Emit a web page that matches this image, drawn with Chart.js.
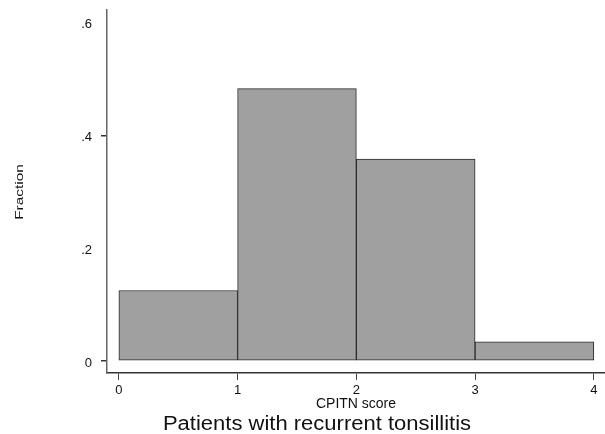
<!DOCTYPE html>
<html>
<head>
<meta charset="utf-8">
<script src="https://cdn.jsdelivr.net/npm/chart.js@4"></script>
<style>
  html, body { margin: 0; padding: 0; background: #fff; }
  #wrap { width: 605px; height: 434px; }
</style>
</head>
<body>
<div id="wrap"><canvas id="grafico" width="605" height="434"></canvas></div>
<script>
// histogram bins (CPITN score) and fraction of patients in each
const binStarts = [0, 1, 2, 3];
const binEnds = [1, 2, 3, 4];
const fractions = [0.125, 0.483, 0.358, 0.034];

const xTicks = [0, 1, 2, 3, 4];
const yTicks = [0, 0.2, 0.4, 0.6];
const yTickLabels = ['0', '.2', '.4', '.6'];

const chartTitle = 'Patients with recurrent tonsillitis';
const xTitle = 'CPITN score';
const yTitle = 'Fraction';

const fonte = "'Liberation Sans', Arial, sans-serif";

// bar data: each bin centred between its edges
let barras = [];
for (let i = 0; i < fractions.length; i++) {
    barras.push({ x: (binStarts[i] + binEnds[i]) / 2, y: fractions[i] });
}

// texts drawn by hand: the scan has stretched lettering
const textosExtra = {
    id: 'textosExtra',
    afterDraw(chart) {
        const ctx = chart.ctx;

        // title under the x axis title
        ctx.save();
        ctx.font = '20px ' + fonte;
        ctx.fillStyle = '#111';
        ctx.textAlign = 'center';
        ctx.textBaseline = 'alphabetic';
        ctx.translate(317, 430);
        ctx.scale(1.1, 1);
        ctx.fillText(chartTitle, 0, 0);
        ctx.restore();

        // y axis title, rotated
        ctx.save();
        ctx.font = '11px ' + fonte;
        ctx.fillStyle = '#111';
        ctx.textAlign = 'center';
        ctx.textBaseline = 'middle';
        ctx.translate(20, 192);
        ctx.rotate(-Math.PI / 2);
        ctx.scale(1.4, 1);
        ctx.fillText(yTitle, 0, 0);
        ctx.restore();
    }
};

const ctx = document.getElementById('grafico');

new Chart(ctx, {
    type: 'bar',
    data: {
        datasets: [{
            data: barras,
            backgroundColor: '#a0a0a0',
            borderColor: '#2a2a2a',
            borderWidth: 1,
            borderSkipped: false,
            barPercentage: 1,
            categoryPercentage: 1
        }]
    },
    options: {
        responsive: false,
        animation: false,
        layout: { padding: { top: 10, right: 0, left: 0, bottom: 0 } },
        plugins: {
            legend: { display: false },
            tooltip: { enabled: false }
        },
        scales: {
            x: {
                type: 'linear',
                offset: false,
                min: -0.1,
                max: 4.094,
                afterFit: (s) => { s.height = 61; s.paddingLeft = 0; s.paddingRight = 0; },
                afterBuildTicks: (s) => { s.ticks = xTicks.map(v => ({ value: v })); },
                ticks: {
                    color: '#111',
                    font: { family: fonte, size: 13 },
                    padding: 3,
                    maxRotation: 0,
                    callback: (v) => String(v)
                },
                grid: {
                    offset: false,
                    drawOnChartArea: false,
                    drawTicks: true,
                    tickLength: 7,
                    color: '#444',
                    lineWidth: 1
                },
                border: { display: true, color: '#333', width: 1.5 },
                title: {
                    display: true,
                    text: xTitle,
                    color: '#111',
                    font: { family: fonte, size: 14 },
                    padding: { top: 0, bottom: 21 }
                }
            },
            y: {
                min: -0.0213,
                max: 0.6223,
                afterFit: (s) => { s.width = 107; s.paddingTop = 0; s.paddingBottom = 0; },
                afterBuildTicks: (s) => { s.ticks = yTicks.map(v => ({ value: v })); },
                ticks: {
                    color: '#111',
                    font: { family: fonte, size: 13 },
                    padding: 9,
                    labelOffset: 2,
                    callback: (v) => yTickLabels[yTicks.indexOf(v)]
                },
                grid: {
                    drawOnChartArea: false,
                    drawTicks: true,
                    tickLength: 6,
                    // the scan only shows tick marks at 0 and .4
                    color: (c) => (c.tick && (c.tick.value === 0 || c.tick.value === 0.4)) ? '#333' : 'rgba(0,0,0,0)',
                    lineWidth: 1.5
                },
                border: { display: true, color: '#666', width: 1.5 }
            }
        }
    },
    plugins: [textosExtra]
});
</script>
</body>
</html>
